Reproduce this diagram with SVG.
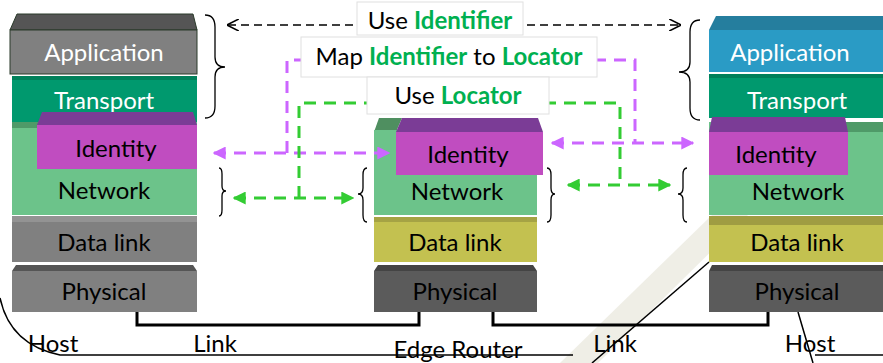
<svg xmlns="http://www.w3.org/2000/svg" width="883" height="363" viewBox="0 0 883 363">
<style>
.t{font-family:Lato,"Open Sans","Liberation Sans",sans-serif;font-size:24px;text-anchor:middle}
.w{fill:#fff}
.k{fill:#000}
.g{fill:#00b050;font-weight:bold}
.brace{fill:none;stroke:#000;stroke-width:1.3}
.pd{fill:none;stroke:#cc66ff;stroke-width:3;stroke-dasharray:12 8}
.gd{fill:none;stroke:#33cc33;stroke-width:3;stroke-dasharray:12 8}
.bd{fill:none;stroke:#000;stroke-width:1.5;stroke-dasharray:8 5}
.lbox{fill:#fff;stroke:#e0e0e0;stroke-width:1}
.link{fill:none;stroke:#000;stroke-width:3}
.thin{fill:none;stroke:#000;stroke-width:1.5}
.app1{fill:#808080}
.trn{fill:#00996e}
.net{fill:#6cc38a}
.idf{fill:#c04dc0}
.idt{fill:#7b3c96}
.gray{fill:#808080}
.dl{fill:#c3c150}
.ph{fill:#5b5b5b}
</style>
<defs>
<marker id="pa" viewBox="0 0 10 10" refX="9" refY="5" markerWidth="13" markerHeight="13" markerUnits="userSpaceOnUse" orient="auto-start-reverse"><path d="M0,0 L10,5 L0,10 z" fill="#cc66ff"/></marker>
<marker id="ga" viewBox="0 0 10 10" refX="9" refY="5" markerWidth="13" markerHeight="13" markerUnits="userSpaceOnUse" orient="auto-start-reverse"><path d="M0,0 L10,5 L0,10 z" fill="#33cc33"/></marker>
<marker id="ba" viewBox="0 0 10 10" refX="9" refY="5" markerWidth="12" markerHeight="12" markerUnits="userSpaceOnUse" orient="auto-start-reverse"><path d="M0,0 L10,5 L0,10" fill="none" stroke="#000" stroke-width="1.3"/></marker>
</defs>
<rect width="883" height="363" fill="#fff"/>
<!-- background slide decorations -->
<g id="background">
<polygon points="712,215 748,215 598,363 560,363" fill="#efeee6"/>
<path class="thin" d="M0,298 Q10,345 60,355 L573,355"/>
<path class="thin" d="M709,262 L592,363"/>
<path class="thin" d="M798,312 L813,363"/>
<path class="thin" d="M815,355 L883,355"/>
</g>
<!-- host 1 -->
<g id="host1">
<polygon points="10,30 17,14 193,14 197,30" fill="#555" stroke="#2a3a2a" stroke-width="1"/>
<rect x="10" y="30" width="187" height="44" class="app1" stroke="#2a3a2a" stroke-width="1"/>
<text class="t w" x="104" y="61">Application</text>
<rect x="12" y="76" width="185" height="46" class="trn"/>
<rect x="12" y="76" width="185" height="4" fill="#00805a"/>
<text class="t w" x="104" y="109">Transport</text>
<rect x="12" y="122" width="185" height="93" class="net"/>
<rect x="12" y="122" width="30" height="6" fill="#4f9a68"/>
<polygon points="37,125 42,112 193,112 197,125" class="idt"/>
<rect x="37" y="125" width="160" height="44" class="idf"/>
<text class="t k" x="116" y="157">Identity</text>
<text class="t k" x="104" y="199">Network</text>
<rect x="12" y="216" width="185" height="46" class="gray"/>
<rect x="12" y="216" width="185" height="6" fill="#939393"/>
<text class="t k" x="104" y="251">Data link</text>
<polygon points="12,271 16,265 193,265 197,271" fill="#555"/>
<rect x="12" y="271" width="185" height="41" class="gray"/>
<text class="t k" x="104" y="300">Physical</text>
</g>
<!-- edge router -->
<g id="router">
<polygon points="374,132 379,118 402,118 396,132" fill="#4f8f60"/>
<rect x="374" y="130" width="163" height="85" class="net"/>
<polygon points="396,132 402,118 538,118 543,132" class="idt"/>
<rect x="396" y="132" width="147" height="43" class="idf"/>
<text class="t k" x="468" y="163">Identity</text>
<text class="t k" x="457" y="200">Network</text>
<rect x="374" y="217" width="163" height="45" class="dl"/>
<rect x="374" y="217" width="163" height="5" fill="#a5a344"/>
<text class="t k" x="455" y="251">Data link</text>
<polygon points="374,271 378,265 533,265 537,271" fill="#444"/>
<rect x="374" y="271" width="163" height="41" class="ph"/>
<text class="t k" x="455" y="300">Physical</text>
</g>
<!-- host 2 -->
<g id="host2">
<polygon points="709,30 716,16 883,16 883,30" fill="#257e9e"/>
<rect x="709" y="30" width="174" height="42" fill="#2a9bc5"/>
<text class="t w" x="790" y="61">Application</text>
<rect x="709" y="74" width="174" height="44" class="trn"/>
<rect x="709" y="74" width="174" height="4" fill="#00805a"/>
<text class="t w" x="797" y="109">Transport</text>
<rect x="709" y="122" width="174" height="93" class="net"/>
<rect x="840" y="122" width="43" height="10" fill="#4f9a68"/>
<polygon points="709,132 712,117 845,117 848,132" class="idt"/>
<rect x="709" y="132" width="139" height="43" class="idf"/>
<text class="t k" x="776" y="163">Identity</text>
<text class="t k" x="798" y="200">Network</text>
<rect x="709" y="216" width="174" height="46" class="dl"/>
<rect x="709" y="216" width="174" height="9" fill="#9f9c42"/>
<text class="t k" x="797" y="251">Data link</text>
<polygon points="709,271 712,265 883,265 883,271" fill="#444"/>
<rect x="709" y="271" width="174" height="41" class="ph"/>
<text class="t k" x="797" y="300">Physical</text>
</g>
<!-- braces -->
<g id="braces">
<path class="brace" d="M205,15 Q215,15 215,27 L215,57 Q215,67 225,67 Q215,67 215,77 L215,106 Q215,118 205,118"/>
<path class="brace" d="M700,20 Q690,20 690,32 L690,62 Q690,72 679,72 Q690,72 690,82 L690,108 Q690,120 700,120"/>
<path class="brace" d="M219,168 Q222,168 222,174 L222,186 Q222,191 226,191 Q222,191 222,196 L222,210 Q222,216 219,216"/>
<path class="brace" d="M367,168 Q363,168 363,175 L363,188 Q363,194 358,194 Q363,194 363,200 L363,215 Q363,222 367,222"/>
<path class="brace" d="M547,168 Q551,168 551,175 L551,188 Q551,194 555,194 Q551,194 551,200 L551,215 Q551,222 547,222"/>
<path class="brace" d="M687,168 Q683,168 683,175 L683,188 Q683,194 678,194 Q683,194 683,200 L683,215 Q683,222 687,222"/>
</g>
<!-- connectors -->
<g id="connectors">
<path class="bd" d="M228,25 H680" marker-start="url(#ba)" marker-end="url(#ba)"/>
<path class="pd" d="M287,153 V60 H635 V143"/>
<path class="pd" d="M214,153 H389" marker-start="url(#pa)" marker-end="url(#pa)"/>
<path class="pd" d="M552,143 H693" marker-start="url(#pa)" marker-end="url(#pa)"/>
<path class="gd" d="M299,198 V103 H620 V185"/>
<path class="gd" d="M234,198 H353" marker-start="url(#ga)" marker-end="url(#ga)"/>
<path class="gd" d="M568,185 H670" marker-start="url(#ga)" marker-end="url(#ga)"/>
<path class="link" d="M137,312 V325 H419 V312"/>
<path class="link" d="M493,312 V325 H768 V312"/>
</g>
<!-- label boxes -->
<g id="label-use-identifier">
<rect class="lbox" x="357" y="2" width="166" height="33"/>
<text class="t" x="440" y="29"><tspan class="k">Use </tspan><tspan class="g">Identifier</tspan></text>
</g>
<g id="label-map">
<rect class="lbox" x="301" y="37" width="296" height="40"/>
<text class="t" x="449" y="65"><tspan class="k">Map </tspan><tspan class="g">Identifier</tspan><tspan class="k"> to </tspan><tspan class="g">Locator</tspan></text>
</g>
<g id="label-use-locator">
<rect class="lbox" x="367" y="77" width="182" height="37"/>
<text class="t" x="458" y="104"><tspan class="k">Use </tspan><tspan class="g">Locator</tspan></text>
</g>
<!-- bottom labels -->
<g id="bottom-labels">
<text class="t k" x="53" y="352">Host</text>
<text class="t k" x="215" y="352">Link</text>
<text class="t k" x="458" y="358">Edge Router</text>
<text class="t k" x="615" y="352">Link</text>
<text class="t k" x="810" y="352">Host</text>
</g>
</svg>
